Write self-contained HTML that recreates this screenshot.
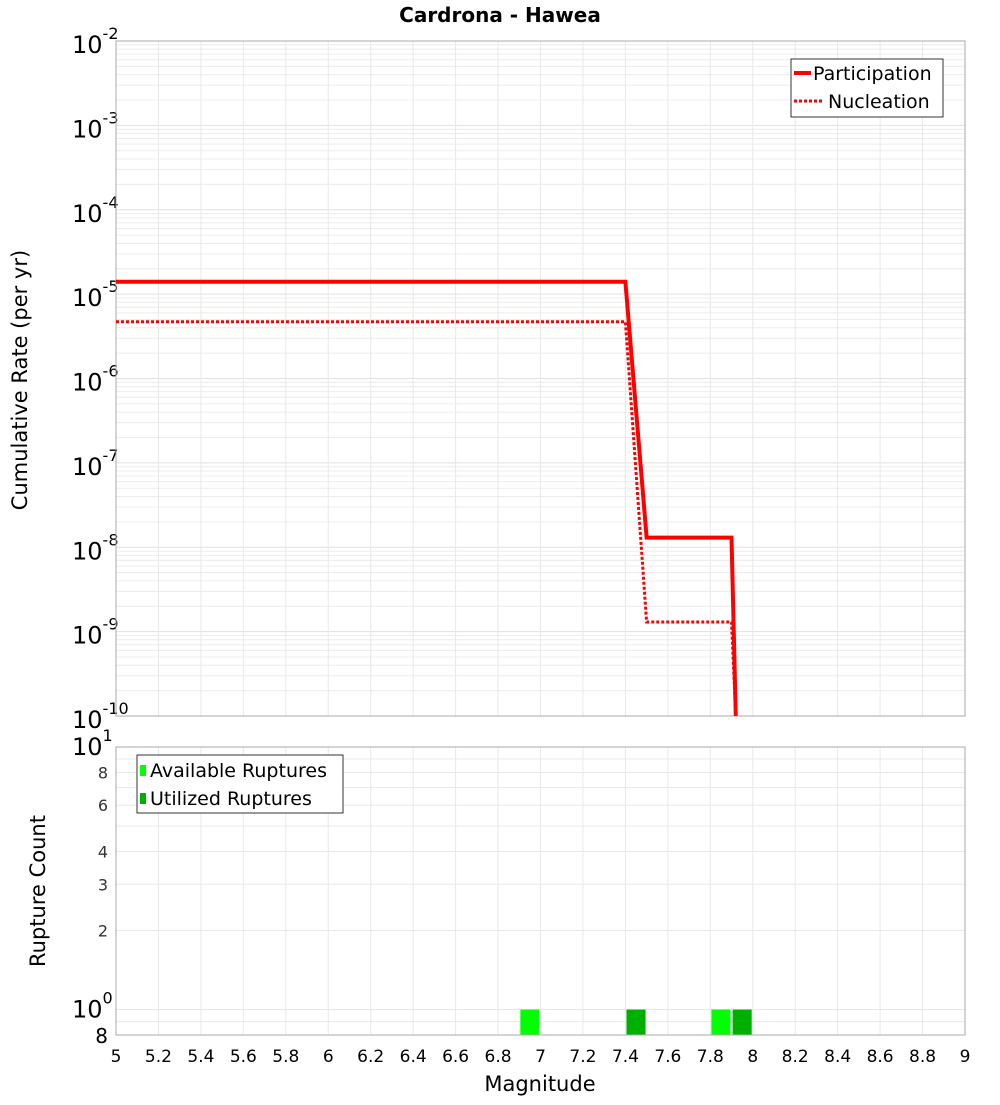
<!DOCTYPE html>
<html><head><meta charset="utf-8"><style>
body{margin:0;background:#fff;}
svg text{font-family:"DejaVu Sans","Liberation Sans",sans-serif;}
</style></head><body>
<svg id="c" width="1000" height="1100" xmlns="http://www.w3.org/2000/svg">
<text x="500" y="22" text-anchor="middle" font-size="20" font-weight="bold">Cardrona - Hawea</text>
<g id="topg"></g><g id="botg"></g>
<text transform="translate(27,380) rotate(-90)" text-anchor="middle" font-size="21">Cumulative Rate (per yr)</text>
<text transform="translate(45,891) rotate(-90)" text-anchor="middle" font-size="21">Rupture Count</text>
<text x="540" y="1091" text-anchor="middle" font-size="21">Magnitude</text>
</svg>
<script>
const partMag=[5,7.4,7.5,7.9,7.92];
const partRate=[1.4e-5,1.4e-5,1.3e-8,1.3e-8,1e-10];
const nuclMag=[5,7.4,7.5,7.9,7.92];
const nuclRate=[4.7e-6,4.7e-6,1.3e-9,1.3e-9,1e-10];
const availMag=[6.95,7.85];
const availCount=[1,1];
const utilMag=[7.45,7.95];
const utilCount=[1,1];
const xTicks=[5,5.2,5.4,5.6,5.8,6,6.2,6.4,6.6,6.8,7,7.2,7.4,7.6,7.8,8,8.2,8.4,8.6,8.8,9];
const topExps=[-2,-3,-4,-5,-6,-7,-8,-9,-10];
const botTicks=[1,2,3,4,6,8];

const NS="http://www.w3.org/2000/svg";
const L=116,R=965,T1=41,B1=716,T2=747,B2=1035;
const X=m=>L+(m-5)/4*(R-L);
const Y1=v=>T1+(-2-Math.log10(v))/8*(B1-T1);
const lmin=Math.log10(0.8);
const Y2=v=>B2-(Math.log10(v)-lmin)/(1-lmin)*(B2-T2);
function mk(p,tag,a){const e=document.createElementNS(NS,tag);for(const k in a)e.setAttribute(k,a[k]);p.appendChild(e);return e;}
function sup(p,x,y,base,ex,name){const t=mk(p,'text',{x:x,y:y,'font-size':24});
const s1=mk(t,'tspan',{});s1.textContent=base;
const s2=mk(t,'tspan',{dy:-14,'font-size':16});s2.textContent=ex;


return t;}
const gTop=document.getElementById('topg'),gBot=document.getElementById('botg');

for(let e=-10;e<-2;e++)for(let k=1;k<10;k++){const y=Y1(k*Math.pow(10,e));const g=mk(gTop,'line',{x1:L,x2:R,y1:y,y2:y,stroke:k==1?'#e0e0e0':'#ececec','stroke-width':1});

}
for(let i=0;i<xTicks.length;i++){const x=X(xTicks[i]);
const g=mk(gTop,'line',{x1:x,x2:x,y1:T1,y2:B1,stroke:'#e8e8e8'});


const g2=mk(gBot,'line',{x1:x,x2:x,y1:T2,y2:B2,stroke:'#e8e8e8'});


const t=mk(gBot,'text',{x:x,y:1062,'text-anchor':'middle','font-size':17});t.textContent=String(xTicks[i]);

}
for(const e of topExps){const y=Y1(Math.pow(10,e));sup(gTop,72,y+12,'10',String(e),'y-tick-label');}
const f1=mk(gTop,'rect',{x:L,y:T1,width:R-L,height:B1-T1,fill:'none',stroke:'#aaa'});


function pts(ms,vs){return ms.map((m,i)=>X(m)+','+Y1(Math.max(vs[i],1e-10))).join(' ');}
const lp=mk(gTop,'polyline',{points:pts(partMag,partRate),fill:'none',stroke:'#f00','stroke-width':4});


const ln=mk(gTop,'polyline',{points:pts(nuclMag,nuclRate),fill:'none',stroke:'#f00','stroke-width':3,'stroke-dasharray':'3,2'});


const lg=mk(gTop,'g',{});


mk(lg,'rect',{x:791,y:59,width:152,height:58,fill:'#fff',stroke:'#333'});
mk(lg,'line',{x1:794,x2:811,y1:73,y2:73,stroke:'#f00','stroke-width':4});
mk(lg,'line',{x1:794,x2:822,y1:101,y2:101,stroke:'#f00','stroke-width':3,'stroke-dasharray':'3,2'});
let t=mk(lg,'text',{x:813,y:80,'font-size':19});t.textContent='Participation';


t=mk(lg,'text',{x:828,y:108,'font-size':19});t.textContent='Nucleation';



for(let v=1;v<=10;v++){const y=Y2(v);const g=mk(gBot,'line',{x1:L,x2:R,y1:y,y2:y,stroke:'#e8e8e8'});

}
{const y=Y2(0.9);const g=mk(gBot,'line',{x1:L,x2:R,y1:y,y2:y,stroke:'#e8e8e8'});

}
for(const v of botTicks){if(v===1)continue;const tt=mk(gBot,'text',{x:108,y:Y2(v)+6,'text-anchor':'end','font-size':16,fill:'#333'});tt.textContent=String(v);

}
sup(gBot,72,Y2(1)+8,'10','0','y-tick-label');
sup(gBot,72,Y2(10)+8,'10','1','y-tick-label');
t=mk(gBot,'text',{x:108,y:1043,'text-anchor':'end','font-size':20});t.textContent='8';


function bars(ms,cs,col,nm){for(let i=0;i<ms.length;i++){const x0=X(ms[i]-0.045),x1=X(ms[i]+0.045),y=Y2(cs[i]);
const r=mk(gBot,'rect',{x:x0,y:y,width:x1-x0,height:B2-y,fill:col});

}}
bars(availMag,availCount,'#00ff00','available-bar');
bars(utilMag,utilCount,'#00b000','utilized-bar');
const f2=mk(gBot,'rect',{x:L,y:T2,width:R-L,height:B2-T2,fill:'none',stroke:'#aaa'});


const lg2=mk(gBot,'g',{});


mk(lg2,'rect',{x:137,y:755,width:206,height:58,fill:'#fff',stroke:'#333'});
mk(lg2,'rect',{x:140,y:765,width:6,height:11,fill:'#00ff00'});
mk(lg2,'rect',{x:140,y:793,width:6,height:11,fill:'#00b000'});
t=mk(lg2,'text',{x:150,y:777,'font-size':19});t.textContent='Available Ruptures';


t=mk(lg2,'text',{x:150,y:805,'font-size':19});t.textContent='Utilized Ruptures';


</script>
</body></html>
